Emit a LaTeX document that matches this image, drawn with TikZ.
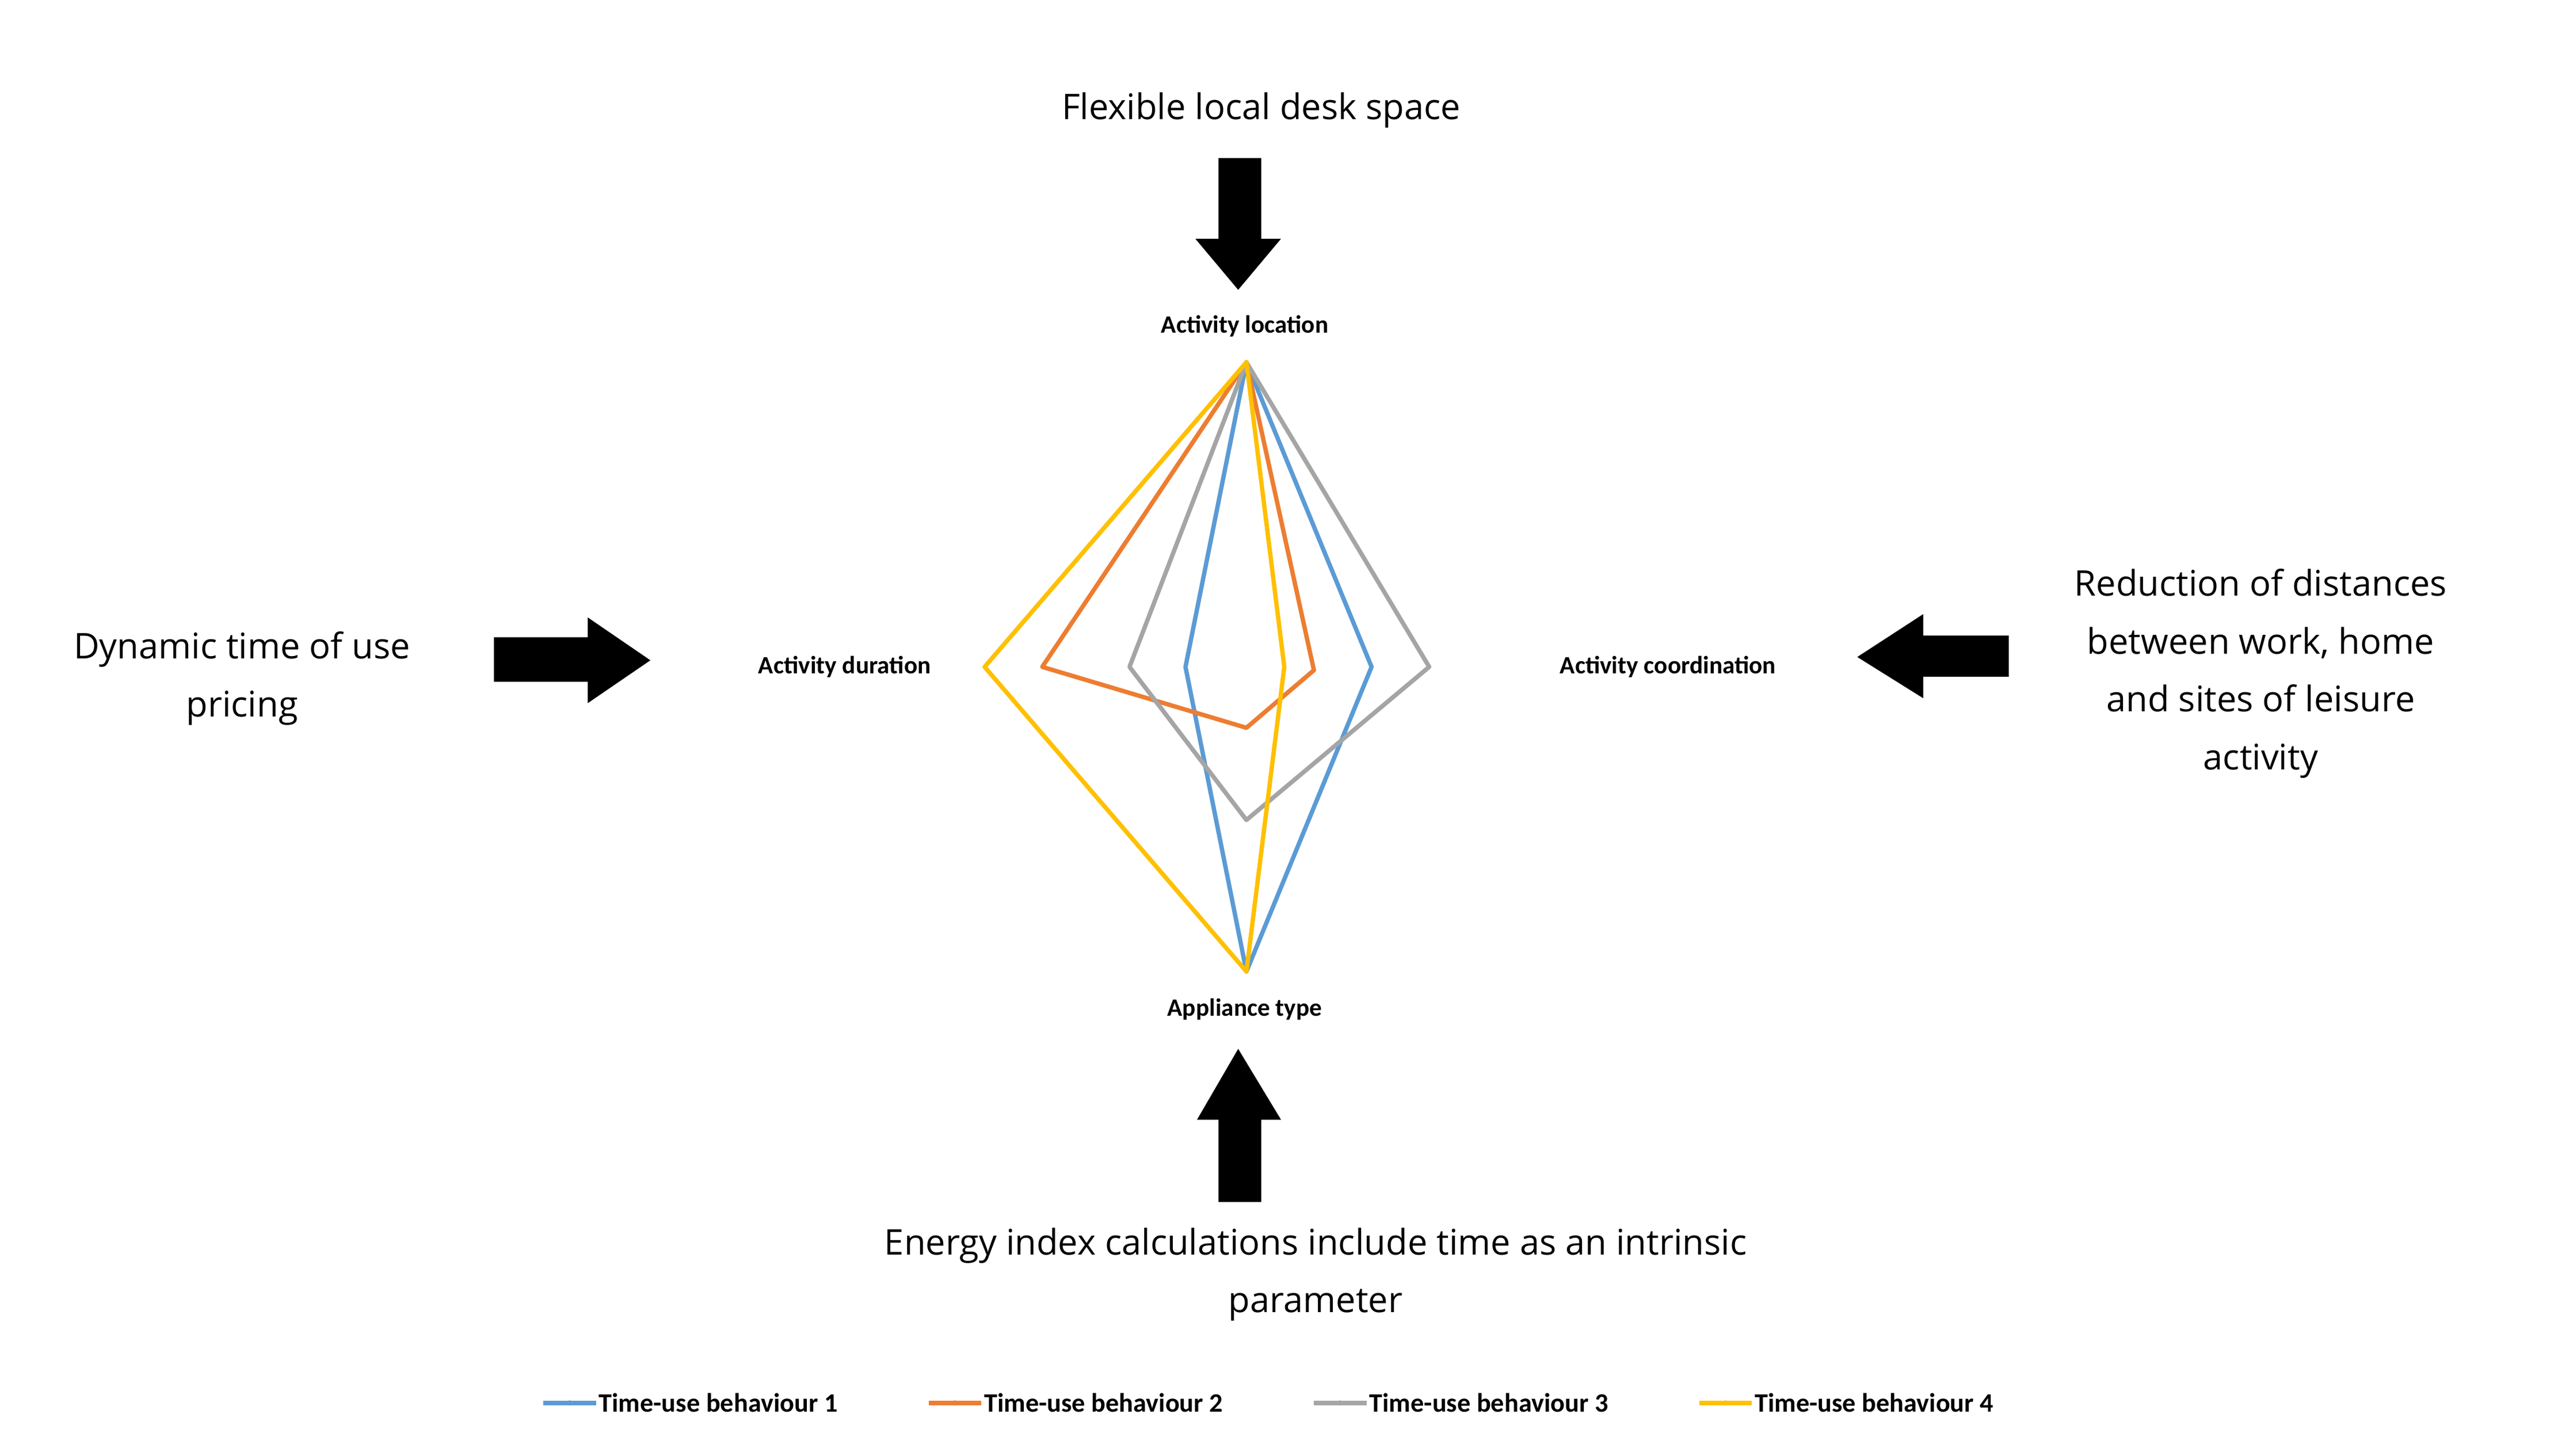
\documentclass[tikz,border=0pt]{standalone}
\usepackage{fontspec}
\setmainfont{Open Sans}
\newfontfamily\lab{Carlito}
\definecolor{cA}{HTML}{5B9BD5}
\definecolor{cB}{HTML}{ED7D31}
\definecolor{cC}{HTML}{A5A5A5}
\definecolor{cD}{HTML}{FFC000}
\begin{document}
\begin{tikzpicture}[x=0.01cm,y=-0.01cm,
  big/.style={font=\fontsize{6.1}{10}\selectfont,align=center,inner sep=0},
  axl/.style={font=\lab\bfseries\fontsize{4.3}{5}\selectfont,inner sep=0},
  leg/.style={font=\lab\bfseries\fontsize{4.6}{5}\selectfont,inner sep=0,anchor=west},
  ser/.style={line width=0.75pt,line join=round},
  blk/.style={fill=black,draw=none}]
\useasboundingbox (0,0) rectangle (1556,884);
\fill[white] (0,0) rectangle (1556,884);
% texts
\node[big] (top) at (766,67) {Flexible local desk space};
\node[big] (left) at (147,412) {Dynamic time of use\\pricing};
\node[big] (right) at (1373,409) {Reduction of distances\\between work, home\\and sites of leisure\\activity};
\node[big] (bot) at (799,774) {Energy index calculations include time as an intrinsic\\parameter};
% axis labels
\node[axl] (L1) at (756,198) {Activity location};
\node[axl] (L2) at (1013,405) {Activity coordination};
\node[axl] (L3) at (756,613) {Appliance type};
\node[axl] (L4) at (513,405) {Activity duration};
% arrows
\fill[blk] (740,96)--(766,96)--(766,145)--(778,145)--(752,176)--(726,145)--(740,145)--cycle;
\fill[blk] (740,730)--(766,730)--(766,680)--(778,680)--(752,637)--(727,680)--(740,680)--cycle;
\fill[blk] (300,387)--(357,387)--(357,375)--(395,401)--(357,427)--(357,414)--(300,414)--cycle;
\fill[blk] (1220,386)--(1168,386)--(1168,373)--(1128,399)--(1168,424)--(1168,411)--(1220,411)--cycle;
% radar, centre (757,405), radius 185
\coordinate (c) at (757,405);
\draw[ser,cA] (757,220)--(833,405)--(757,590)--(720,405)--cycle;
\draw[ser,cB] (757,220)--(798,407)--(757,442)--(633,405)--cycle;
\draw[ser,cC] (757,220)--(868,405)--(757,498)--(686,405)--cycle;
\draw[ser,cD] (757,220)--(780,405)--(757,590)--(598,405)--cycle;
% legend
\foreach \x/\c/\n in {330/cA/1,564/cB/2,798/cC/3,1032/cD/4}{
  \draw[cA,line width=0.75pt,draw=\c] (\x,852)--(\x+32,852);
  \fill[\c] (\x+16,852) circle (1.6);
  \node[leg] (leg\n) at (\x+33,852) {Time-use behaviour \n};
}
\end{tikzpicture}
\end{document}
